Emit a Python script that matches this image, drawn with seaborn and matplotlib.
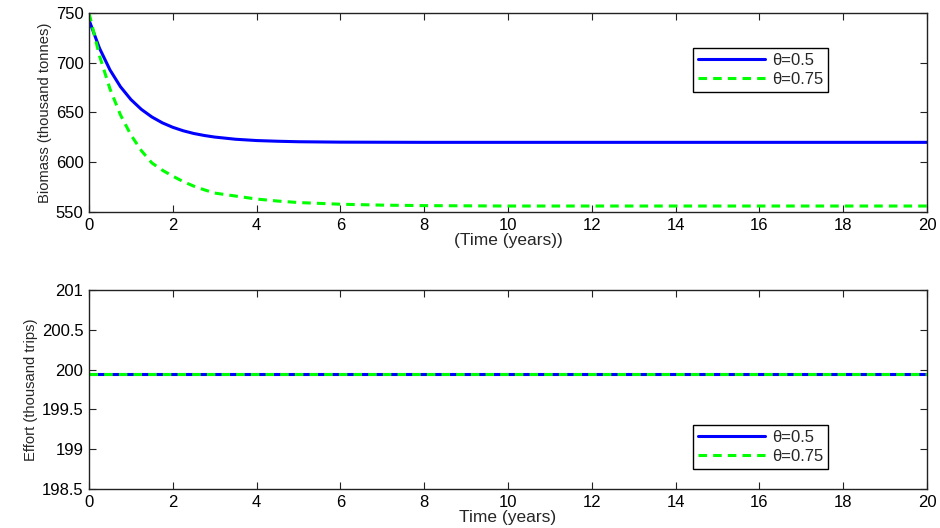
import matplotlib
matplotlib.use("Agg")
import matplotlib.pyplot as plt
import numpy as np
import pandas as pd
import seaborn as sns

# Simulation output: time (years), biomass (thousand tonnes), effort (thousand trips)
time = [0, 0.25, 0.5, 0.75, 1, 1.25, 1.5, 1.75, 2, 2.25, 2.5, 2.75, 3, 3.5,
        4, 4.5, 5, 6, 7, 8, 10, 12, 14, 16, 18, 20]
biomass_theta_05 = [743, 714.6, 692.8, 675.9, 663, 653.1, 645.5, 639.6, 635.1,
                    631.6, 628.9, 626.9, 625.3, 623.1, 621.8, 621.1, 620.6,
                    620.2, 620.1, 620, 620, 620, 620, 620, 620, 620]
biomass_theta_075 = [750, 707, 673.7, 647.6, 627.4, 611.6, 599.3, 592, 586,
                     580.5, 576, 572.3, 569, 566, 563, 561, 559.5, 557.8,
                     556.9, 556.4, 556, 556, 556, 556, 556, 556]
effort_theta_05 = [199.95] * len(time)
effort_theta_075 = [199.95] * len(time)

series_labels = ["\u03b8=0.5", "\u03b8=0.75"]
x_ticks = [0, 2, 4, 6, 8, 10, 12, 14, 16, 18, 20]
biomass_ticks = [550, 600, 650, 700, 750]
effort_ticks = [198.5, 199, 199.5, 200, 200.5, 201]

sns.set_style("ticks")
plt.rcParams["font.family"] = ["Liberation Sans", "DejaVu Sans"]
plt.rcParams["xtick.direction"] = "in"
plt.rcParams["ytick.direction"] = "in"

df_bio = pd.DataFrame({
    "t": time * 2,
    "v": biomass_theta_05 + biomass_theta_075,
    "s": [series_labels[0]] * len(time) + [series_labels[1]] * len(time),
})
df_eff = pd.DataFrame({
    "t": time * 2,
    "v": effort_theta_05 + effort_theta_075,
    "s": [series_labels[0]] * len(time) + [series_labels[1]] * len(time),
})

palette = {series_labels[0]: "#0000ff", series_labels[1]: "#00ff00"}
dashes = {series_labels[0]: "", series_labels[1]: (2.8, 2.0)}

fig = plt.figure(figsize=(9.4, 5.28), dpi=100)
ax1 = fig.add_axes([0.0947, 0.5985, 0.8915, 0.3769])
ax2 = fig.add_axes([0.0947, 0.0739, 0.8915, 0.3769])


def style_axis(ax, yticks, ylim, ylabel, xlabel, legend_y):
    ax.set_xlim(0, 20)
    ax.set_ylim(*ylim)
    ax.set_xticks(x_ticks)
    ax.set_yticks(yticks)
    ax.set_yticklabels([f"{v:g}" for v in yticks])
    ax.tick_params(axis="both", which="both", top=True, right=True,
                   length=5, width=0.8, labelsize=12, pad=4, colors="#222222",
                   labelcolor="black")
    for sp in ax.spines.values():
        sp.set_visible(True)
        sp.set_linewidth(1.0)
        sp.set_color("#222222")
    ax.set_ylabel(ylabel, fontsize=10.6, labelpad=3)
    ax.set_xlabel(xlabel, fontsize=12.5, labelpad=0)
    leg = ax.legend(loc="upper left", bbox_to_anchor=(0.7208, legend_y),
                    fontsize=12, frameon=True, fancybox=False, shadow=False,
                    handlelength=4.0, handletextpad=0.45, borderpad=0.3,
                    labelspacing=0.25, borderaxespad=0)
    leg.get_frame().set_edgecolor("black")
    leg.get_frame().set_linewidth(1.0)
    leg.get_frame().set_alpha(1)


sns.lineplot(data=df_bio, x="t", y="v", hue="s", style="s", palette=palette,
             dashes=dashes, linewidth=2.2, ax=ax1)
style_axis(ax1, biomass_ticks, (550, 750), "Biomass (thousand tonnes)",
           "(Time (years))", 0.824)

sns.lineplot(data=df_eff, x="t", y="v", hue="s", style="s", palette=palette,
             dashes=dashes, linewidth=2.2, ax=ax2)
style_axis(ax2, effort_ticks, (198.5, 201), "Effort (thousand trips)",
           "Time (years)", 0.3216)

fig.savefig("out.png", dpi=100, facecolor="white")
